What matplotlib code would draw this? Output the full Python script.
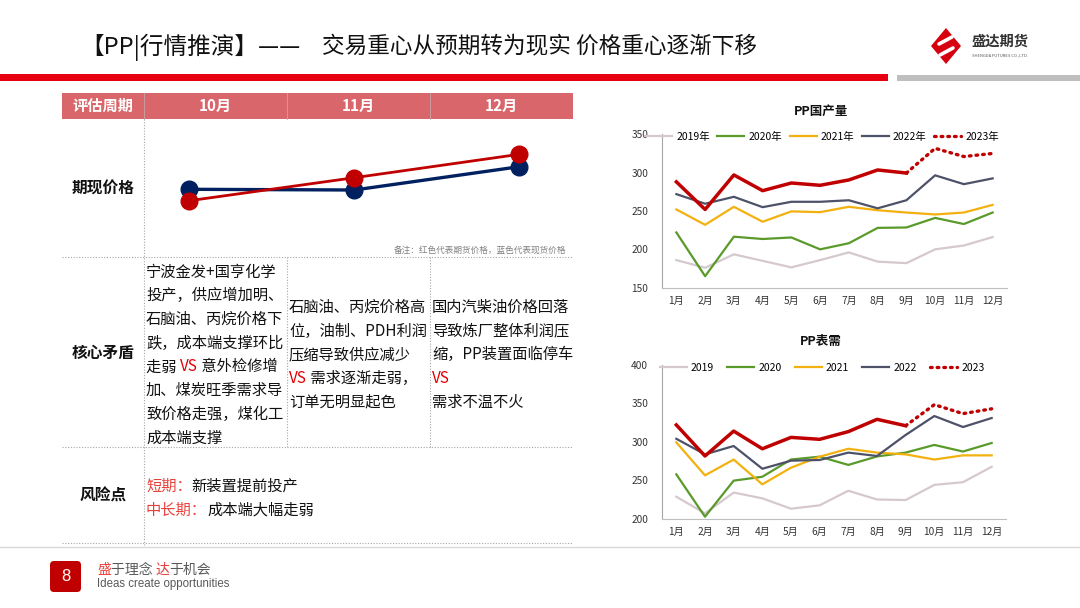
import matplotlib
matplotlib.use("Agg")
import matplotlib.pyplot as plt
from matplotlib.patches import Rectangle, FancyBboxPatch, Polygon
from matplotlib.lines import Line2D

plt.rcParams["font.family"] = ["Noto Sans CJK SC", "DejaVu Sans"]

W, H = 1080, 608

# ---- data ----
months = ["1月", "2月", "3月", "4月", "5月", "6月", "7月", "8月", "9月", "10月", "11月", "12月"]
years = ["2019", "2020", "2021", "2022", "2023"]

# PP domestic output
output_2019 = [186, 176, 193.5, 185, 176.5, 186, 196, 184, 182, 200, 205, 216]
output_2020 = [222, 165, 216.5, 213.5, 215.5, 200, 208, 228, 228.5, 241, 233, 248]
output_2021 = [252, 232, 255.5, 236, 249.5, 248.5, 255.5, 251, 248, 245.5, 248, 258]
output_2022 = [272, 259.5, 268.5, 255, 262, 262, 264, 253.5, 264, 296.5, 285, 292.5]
output_2023 = [288, 252, 297, 276.5, 286.5, 283.5, 290.5, 303.5, 299.5]
output_2023_fcst = [299.5, 331.7, 321, 325]  # 9月-12月

# PP apparent demand
demand_2019 = [228.6, 207, 234, 226.5, 213, 217.4, 236.4, 225, 224.3, 244, 247.5, 267.6]
demand_2020 = [257.7, 202.6, 249.5, 254.6, 277, 280.7, 270, 281, 286, 296, 287.4, 298.5]
demand_2021 = [299.3, 256.4, 277, 244.7, 266.4, 280.7, 291, 286, 283.7, 277, 282.4, 282.4]
demand_2022 = [304, 283.7, 294.6, 265, 275.5, 276.4, 286, 281.6, 309, 333.6, 319.3, 331]
demand_2023 = [322, 281.6, 314, 291, 305.8, 303.3, 313.3, 329.3, 321]
demand_2023_fcst = [321, 348.4, 336.7, 343]  # 9月-12月

# schematic spot / futures trend (relative units)
periods = ["10月", "11月", "12月"]
spot_trend = [67.7, 67.0, 90.3]
futures_trend = [56.3, 79.3, 102.7]

col1_lines = ["宁波金发+国亨化学", "投产，供应增加明、", "石脑油、丙烷价格下", "跌，成本端支撑环比",
              [("走弱 ", "k"), ("VS", "r"), (" 意外检修增", "k")],
              "加、煤炭旺季需求导", "致价格走强，煤化工", "成本端支撑"]
col2_lines = ["石脑油、丙烷价格高", "位，油制、PDH利润", "压缩导致供应减少",
              [("VS", "r"), (" 需求逐渐走弱，", "k")], "订单无明显起色"]
col3_lines = ["国内汽柴油价格回落", "导致炼厂整体利润压", "缩，PP装置面临停车",
              [("VS", "r")], "需求不温不火"]

RED = "#C00000"
VS_RED = "#E00000"
LIGHT_RED = "#E8413C"
line_colors = ["#D5C8CF", "#5A9A2A", "#F2B10E", "#4D5269"]


def box(x0, y0, x1, y1):
    return [x0 / W, 1 - y1 / H, (x1 - x0) / W, (y1 - y0) / H]


fig = plt.figure(figsize=(W / 100, H / 100), dpi=100)
bg = fig.add_axes([0, 0, 1, 1])
bg.set_xlim(0, W)
bg.set_ylim(H, 0)
bg.axis("off")

# ---- header ----
bg.text(80, 47, "【PP|行情推演】——", fontsize=17, va="center", ha="left", color="#111111")
bg.text(322, 47, "交易重心从预期转为现实 价格重心逐渐下移", fontsize=16.3, va="center", ha="left",
        color="#111111", style="italic")
bg.add_patch(Rectangle((0, 74), 888, 7, color="#E60012", lw=0))
bg.add_patch(Rectangle((897, 75), 183, 6, color="#BFBFBF", lw=0))

# logo
bg.add_patch(Polygon([(946, 28), (961, 46), (946, 64), (931, 46)], closed=True, color="#D7000F", lw=0))
bg.plot([939, 952], [44, 37], color="white", lw=2.6, solid_capstyle="round")
bg.plot([940, 953], [55, 48], color="white", lw=2.6, solid_capstyle="round")
bg.text(972, 42, "盛达期货", fontsize=10.3, fontweight="bold", color="#333333", va="center", ha="left")
bg.text(972, 55, "SHENGDA FUTURES CO.,LTD.", fontsize=3, color="#555555", va="center", ha="left")

# ---- table ----
tx0, tx1 = 62, 573
cols = [144, 287, 430]
bg.add_patch(Rectangle((tx0, 93), tx1 - tx0, 26, color="#D9666A", lw=0))
for cx in cols:
    bg.plot([cx, cx], [93, 119], color="#C9A3A3", lw=0.6)
bg.text(103, 106, "评估周期", color="white", fontsize=11, fontweight="bold", ha="center", va="center")
for i, p in enumerate(periods):
    bg.text((cols[i] + (cols[i + 1] if i < 2 else tx1)) / 2, 106, p, color="white", fontsize=11,
            fontweight="bold", ha="center", va="center")

for yy in [256.7, 447.3, 543.3]:
    bg.plot([tx0, tx1], [yy, yy], color="#A6A6A6", lw=0.8, ls=(0, (1, 1.5)))
bg.plot([144, 144], [119, 545], color="#A6A6A6", lw=0.8, ls=(0, (1, 1.5)))
for cx in cols[1:]:
    bg.plot([cx, cx], [257, 447], color="#A6A6A6", lw=0.8, ls=(0, (1, 1.5)))

for label, yy in [("期现价格", 189), ("核心矛盾", 353), ("风险点", 496)]:
    bg.text(103, yy, label, fontsize=11.3, fontweight="bold", ha="center", va="center", color="#111111")

# price trend mini chart
pax = fig.add_axes(box(144, 119, 573, 257))
pax.set_xlim(-0.2745, 2.3255)
pax.set_ylim(0, 138)
pax.axis("off")
pax.plot(range(3), spot_trend, color="#002060", lw=2.4, marker="o", ms=12)
pax.plot(range(3), futures_trend, color=RED, lw=2.0, marker="o", ms=12)
bg.text(566, 250, "备注：红色代表期货价格，蓝色代表现货价格", fontsize=6.2, color="#808080", ha="right", va="center")


def runs(x, y, parts, size=11):
    cmap = {"k": "#111111", "r": VS_RED, "lr": LIGHT_RED}
    if isinstance(parts, str):
        parts = [(parts, "k")]
    t = bg.text(x, y, parts[0][0], color=cmap[parts[0][1]], fontsize=size, va="center", ha="left")
    for s, c in parts[1:]:
        t = bg.annotate(s, xy=(1, 0.5), xycoords=t, color=cmap[c], fontsize=size, va="center", ha="left")
    return t


step = 23.7
for i, ln in enumerate(col1_lines):
    runs(146, 272 + i * step, ln)
for i, ln in enumerate(col2_lines):
    runs(289, 307.3 + i * step, ln)
for i, ln in enumerate(col3_lines):
    runs(432, 307.3 + i * step, ln)

runs(146, 486, [("短期：", "lr"), ("新装置提前投产", "k")])
runs(146, 510, [("中长期：", "lr"), ("成本端大幅走弱", "k")])

# ---- footer ----
bg.plot([0, W], [547, 547], color="#D9D9D9", lw=1)
bg.add_patch(FancyBboxPatch((50, 561), 31, 31, boxstyle="round,pad=0,rounding_size=4", color=RED, lw=0))
bg.text(65.5, 576.5, "8", color="white", fontsize=12, ha="center", va="center", family="Liberation Sans")
t = bg.text(97, 570, "盛", color=LIGHT_RED, fontsize=10, va="center", ha="left")
for s, c in [("于理念 ", "#595959"), ("达", LIGHT_RED), ("于机会", "#595959")]:
    t = bg.annotate(s, xy=(1, 0.5), xycoords=t, color=c, fontsize=10, va="center", ha="left")
bg.text(97, 584, "Ideas create opportunities", color="#595959", fontsize=8.3, va="center", ha="left",
        family="Liberation Sans")


# ---- right charts ----
def year_chart(rect, title, title_y, series, actual, fcst, suffix, ylim, yticks, legend_y, colspace):
    ax = fig.add_axes(box(*rect))
    x = list(range(12))
    handles = []
    for yr, vals, c in zip(years[:4], series, line_colors):
        h, = ax.plot(x, vals, color=c, lw=1.6)
        handles.append(h)
    ax.plot(range(len(actual)), actual, color=RED, lw=2.5, solid_joinstyle="round")
    ax.plot(range(8, 12), fcst, color=RED, lw=2.4, ls=(0, (0.5, 1.5)), dash_capstyle="round")
    handles.append(Line2D([], [], color=RED, lw=2.4, ls=(0, (0.5, 1.5)), dash_capstyle="round"))
    ax.set_xlim(-0.5, 11.5)
    ax.set_ylim(*ylim)
    ax.set_yticks(yticks)
    ax.set_xticks(x)
    ax.set_xticklabels(months)
    ax.tick_params(axis="y", length=0, pad=10, labelsize=7.3, colors="#333333")
    ax.tick_params(axis="x", length=0, pad=6, labelsize=7.3, colors="#333333")
    for s in ["top", "right"]:
        ax.spines[s].set_visible(False)
    ax.spines["left"].set_color("#A6A6A6")
    ax.spines["bottom"].set_color("#BFBFBF")
    ax.spines["left"].set_linewidth(0.8)
    ax.spines["bottom"].set_linewidth(0.8)
    ax.patch.set_alpha(0)
    ax.legend(handles, [y + suffix for y in years], loc="center", bbox_to_anchor=(822, legend_y),
              bbox_transform=bg.transData, ncol=5, frameon=False, fontsize=7.5, handlelength=2.6,
              handletextpad=0.4, columnspacing=colspace)
    bg.text(821, title_y, title, fontsize=9, fontweight="bold", ha="center", va="center", color="#111111")
    return ax


year_chart((662, 134.3, 1007, 287.7), "PP国产量", 111,
           [output_2019, output_2020, output_2021, output_2022], output_2023, output_2023_fcst,
           "年", (150, 350), [150, 200, 250, 300, 350], 136.7, 0.7)
year_chart((662, 365, 1006, 518.7), "PP表需", 341.7,
           [demand_2019, demand_2020, demand_2021, demand_2022], demand_2023, demand_2023_fcst,
           "", (200, 400), [200, 250, 300, 350, 400], 367.7, 1.25)

fig.savefig("out.png", dpi=100)
